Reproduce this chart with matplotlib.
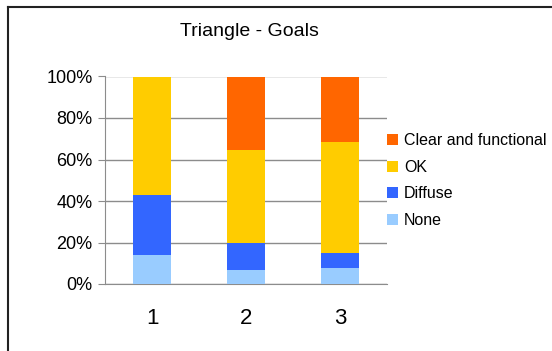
import matplotlib
matplotlib.use("Agg")
import matplotlib.pyplot as plt
from matplotlib.lines import Line2D
import numpy as np

plt.rcParams['font.family'] = ['Liberation Sans', 'DejaVu Sans']

categories = ['1', '2', '3']
series_names = ['None', 'Diffuse', 'OK', 'Clear and functional']
none_vals = [14.0, 6.8, 7.7]
diffuse_vals = [28.9, 13.0, 7.4]
ok_vals = [57.1, 44.8, 53.4]
clear_vals = [0.0, 35.4, 31.5]
colors = ['#99ccff', '#3366ff', '#ffcc00', '#ff6600']

fig = plt.figure(figsize=(5.52, 3.51), dpi=100)
ax = fig.add_axes([105 / 552, 1 - 284 / 351, 282 / 552, 207.5 / 351])

x = np.arange(len(categories))
bottom = np.zeros(len(categories))
bars = []
for name, vals, c in zip(series_names, [none_vals, diffuse_vals, ok_vals, clear_vals], colors):
    b = ax.bar(x, vals, 0.41, bottom=bottom, color=c, label=name, zorder=3)
    bars.append(b)
    bottom += np.array(vals)

ax.set_xlim(-0.5, 2.5)
ax.set_ylim(0, 100)
ax.set_yticks([0, 20, 40, 60, 80, 100])
ax.set_yticklabels([f'{v}%' for v in [0, 20, 40, 60, 80, 100]])
ax.set_xticks(x)
ax.set_xticklabels(categories)
ax.yaxis.grid(True, color='#8c8c8c', linewidth=1, zorder=0)
ax.tick_params(axis='y', length=5, color='#8c8c8c', labelsize=13, pad=4)
ax.tick_params(axis='x', length=0, labelsize=16, pad=17)
for s in ['top', 'right']:
    ax.spines[s].set_visible(False)
for s in ['left', 'bottom']:
    ax.spines[s].set_color('#8c8c8c')

fig.text(249 / 552, 1 - 32 / 351, 'Triangle - Goals', ha='center', va='center', fontsize=14)

# legend, top entry first
handles = [bars[3], bars[2], bars[1], bars[0]]
labels = [series_names[3], series_names[2], series_names[1], series_names[0]]
fig.legend(handles, labels, loc='upper left', bbox_to_anchor=(381 / 552, 1 - 127 / 351),
           frameon=False, fontsize=11.5, handlelength=0.65, handleheight=0.65,
           handletextpad=0.4, labelspacing=0.72, borderaxespad=0)

# outer frame (only left and top edges visible)
fig.add_artist(Line2D([8 / 552, 8 / 552], [0, 1 - 7 / 351], transform=fig.transFigure,
                      color='#222222', linewidth=1.5))
fig.add_artist(Line2D([8 / 552, 1], [1 - 7 / 351, 1 - 7 / 351], transform=fig.transFigure,
                      color='#222222', linewidth=1.5))

fig.savefig('out.png', dpi=100)
